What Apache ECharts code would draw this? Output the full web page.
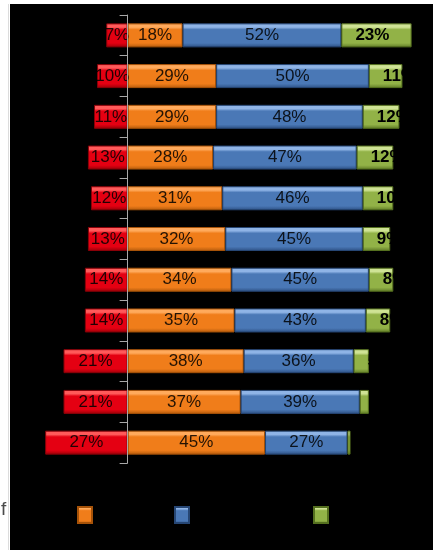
<!DOCTYPE html>
<html>
<head>
<meta charset="utf-8">
<style>
  html, body { margin: 0; padding: 0; background: #ffffff; }
  #chart { width: 433px; height: 550px; }
</style>
<script src="https://cdn.jsdelivr.net/npm/echarts@6/dist/echarts.min.js"></script>
</head>
<body>
<div id="chart"></div>
<script>
// Row identifiers, top to bottom
const categories = ['1', '2', '3', '4', '5', '6', '7', '8', '9', '10', '11'];

// Share of answers per row, in percent
const redValues    = [7, 10, 11, 13, 12, 13, 14, 14, 21, 21, 27];
const orangeValues = [18, 29, 29, 28, 31, 32, 34, 35, 38, 37, 45];
const blueValues   = [52, 50, 48, 47, 46, 45, 45, 43, 36, 39, 27];
const greenValues  = [23, 11, 12, 12, 10, 9, 8, 8, 5, 3, 1];

// Bevel-like vertical gradient for each bar colour
function bevel(light, main, dark) {
  return new echarts.graphic.LinearGradient(0, 0, 0, 1, [
    { offset: 0, color: light },
    { offset: 0.16, color: light },
    { offset: 0.26, color: main },
    { offset: 0.82, color: main },
    { offset: 1, color: dark }
  ]);
}

const labelFont = { fontFamily: 'Liberation Sans, Arial, sans-serif', fontSize: 17 };

function seriesOf(name, values, fill, border, label) {
  return {
    name: name,
    type: 'bar',
    stack: 'total',
    barWidth: 24,
    data: values,
    itemStyle: { color: fill, borderColor: border, borderWidth: 1 },
    label: label,
    emphasis: { disabled: true }
  };
}

const chart = echarts.init(document.getElementById('chart'), null, { renderer: 'canvas' });

const legendBase = { top: 501, itemWidth: 14, itemHeight: 16, icon: 'rect', formatter: () => '', selectedMode: false };

chart.setOption({
  animation: false,
  backgroundColor: '#ffffff',
  graphic: [
    { type: 'rect', z: -10, shape: { x: 10, y: 4, width: 430, height: 560 }, style: { fill: '#000000' } },
    { type: 'line', z: -10, shape: { x1: 8.5, y1: 4, x2: 8.5, y2: 550 }, style: { stroke: '#dcdcdc', lineWidth: 1 } },
    { type: 'text', z: 5, left: 1, top: 500, style: { text: 'f', fill: '#4a4a4a', font: '19px "Liberation Sans", Arial, sans-serif' } }
  ],
  grid: { left: 36, top: 15, width: 398, height: 448, containLabel: false },
  xAxis: {
    type: 'value',
    min: -30,
    max: 100,
    show: false
  },
  yAxis: {
    type: 'category',
    data: categories,
    inverse: true,
    z: 10,
    axisLine: { show: true, onZero: true, lineStyle: { color: '#a8a8a8', width: 1 } },
    axisTick: { show: true, length: 8, lineStyle: { color: '#a8a8a8', width: 1 } },
    axisLabel: { show: false },
    splitLine: { show: false }
  },
  legend: [
    Object.assign({ data: ['orange'], left: 72 }, legendBase),
    Object.assign({ data: ['blue'], left: 169 }, legendBase),
    Object.assign({ data: ['green'], left: 308 }, legendBase)
  ],
  series: [
    seriesOf('red', redValues.map(v => -v),
      bevel('#ff5a5a', '#e40012', '#9a0008'), '#8a0008',
      Object.assign({ show: true, position: 'inside', color: 'rgba(0,0,0,0.85)',
        formatter: p => Math.abs(p.value) + '%' }, labelFont)),
    seriesOf('orange', orangeValues,
      bevel('#ffaa5c', '#f07d1a', '#b35a0c'), '#a65208',
      Object.assign({ show: true, position: 'inside', color: 'rgba(0,0,0,0.85)',
        formatter: p => p.value + '%' }, labelFont)),
    seriesOf('blue', blueValues,
      bevel('#8fb4e6', '#4a78b6', '#2c4f82'), '#264674',
      Object.assign({ show: true, position: 'inside', color: 'rgba(0,0,0,0.85)',
        formatter: p => p.value + '%' }, labelFont)),
    seriesOf('green', greenValues,
      bevel('#cfe395', '#92b247', '#5f7a26'), '#55701f',
      Object.assign({ show: true, position: 'insideLeft', distance: 14, color: '#000000', fontWeight: 'bold',
        formatter: p => p.value + '%' }, labelFont))
  ]
});
</script>
</body>
</html>
